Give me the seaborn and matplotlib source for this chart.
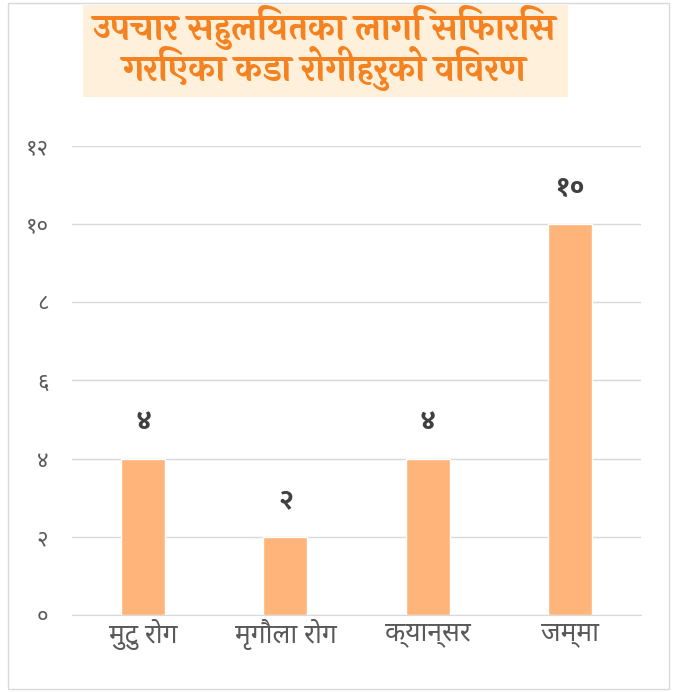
import matplotlib
matplotlib.use("Agg")
import matplotlib.pyplot as plt
import seaborn as sns
import pandas as pd

categories = ["मुटु रोग", "मृगौला रोग", "क्यान्सर", "जम्मा"]
values = [4, 2, 4, 10]
value_labels = ["४", "२", "४", "१०"]
y_ticks = [0, 2, 4, 6, 8, 10, 12]
y_tick_labels = ["०", "२", "४", "६", "८", "१०", "१२"]
title_lines = ["उपचार सहुलियतका लागि सिफारिस", "गरिएका कडा रोगीहरुको विवरण"]

sns.set_style("white")
plt.rcParams['font.family'] = ['Noto Sans Devanagari', 'DejaVu Sans']
TITLE_FONT = ['Laila', 'Noto Sans Devanagari', 'DejaVu Sans']
LABEL_FONT = ['Mukta', 'Noto Sans Devanagari', 'DejaVu Sans']

df = pd.DataFrame({"cat": categories, "val": values})

fig = plt.figure(figsize=(6.77, 6.92), dpi=100)
ax = fig.add_axes([0.1064, 0.1113, 0.8404, 0.6777])

sns.barplot(data=df, x="cat", y="val", color="#FFB47A", width=0.31,
            saturation=1, ax=ax, zorder=3)

ax.set_ylim(0, 12)
ax.set_xlim(-0.5, 3.5)
ax.set_yticks(y_ticks)
ax.set_yticklabels(y_tick_labels, color="#595959", fontsize=16)
ax.tick_params(axis="x", labelsize=19, colors="#595959", length=0, pad=3)
ax.tick_params(axis="y", length=0, pad=17)
ax.set_xlabel("")
ax.set_ylabel("")
ax.yaxis.grid(True, color="#D9D9D9", linewidth=1, zorder=0)
sns.despine(ax=ax, left=True, bottom=True)
ax.spines["bottom"].set_visible(True)
ax.spines["bottom"].set_color("#D9D9D9")

for i, (v, lab) in enumerate(zip(values, value_labels)):
    ax.text(i, v + 0.6, lab, ha="center", va="bottom", fontsize=19,
            fontweight="heavy", color="#404040", family=LABEL_FONT)

# title box
fig.patches.append(plt.Rectangle((0.1226, 0.8598), 0.7164, 0.133,
                                 transform=fig.transFigure, facecolor="#FFF0DC",
                                 edgecolor="none"))
fig.text(0.48, 0.960, title_lines[0], ha="center", va="center", family=TITLE_FONT,
         fontsize=25, fontweight="bold", color="#F58220")
fig.text(0.48, 0.901, title_lines[1], ha="center", va="center", family=TITLE_FONT,
         fontsize=25, fontweight="bold", color="#F58220")

# outer border
fig.patches.append(plt.Rectangle((0.012, 0.004), 0.976, 0.992,
                                 transform=fig.transFigure, facecolor="none",
                                 edgecolor="#D9D9D9", linewidth=1))

fig.savefig("out.png", dpi=100)
